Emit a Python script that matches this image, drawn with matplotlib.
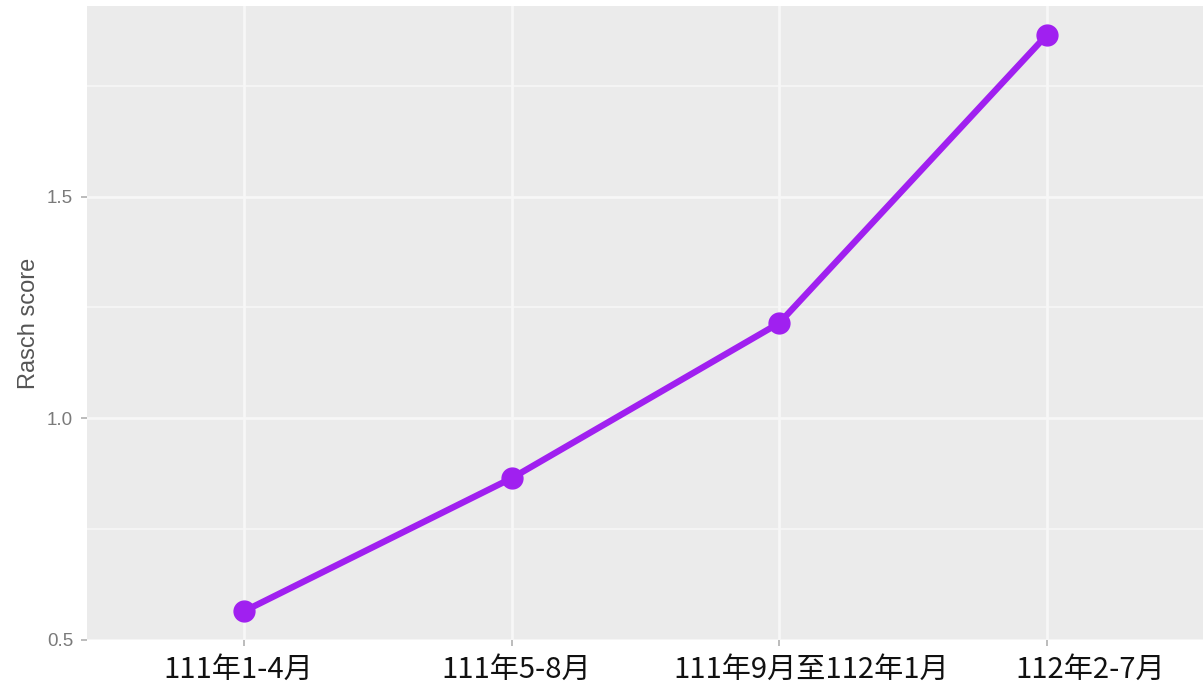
import matplotlib
matplotlib.use('agg')
import matplotlib.pyplot as plt
import matplotlib.transforms as mtransforms
import numpy as np

# data
periods = ['111年1-4月', '111年5-8月', '111年9月至112年1月', '112年2-7月']
rasch_score = [0.565, 0.865, 1.215, 1.865]
y_major = [0.5, 1.0, 1.5]
y_minor = [0.75, 1.25, 1.75]

plt.rcParams['font.family'] = ['Liberation Sans', 'DejaVu Sans']

fig = plt.figure(figsize=(12.03, 6.83), dpi=100)
ax = fig.add_axes([87 / 1203, 43 / 683, 1 - 87 / 1203, 634 / 683])
ax.set_facecolor('#EBEBEB')

x = np.arange(1, len(periods) + 1)
ax.plot(x, rasch_score, color='#A020F0', linewidth=4.6, marker='o',
        markersize=15, solid_capstyle='round', zorder=3)

ax.set_xlim(0.413, 4.583)
ax.set_ylim(0.502, 1.930)

ax.set_xticks(x)
ax.set_xticklabels(periods, family=['Noto Sans CJK TC', 'DejaVu Sans'],
                   fontsize=21, color='#111111', weight='medium')
ax.set_yticks(y_major)
ax.set_yticks(y_minor, minor=True)
ax.set_yticklabels(['0.5', '1.0', '1.5'], fontsize=13.5, color='#7a7a7a')

ax.grid(which='major', color='#F7F7F7', linewidth=2.0)
ax.grid(which='minor', axis='y', color='#F7F7F7', linewidth=1.2)
ax.set_axisbelow(True)

ax.tick_params(axis='both', which='major', length=4, width=1.2, color='#b0b0b0')
ax.tick_params(axis='x', pad=7)
ax.tick_params(axis='y', pad=6)
ax.tick_params(which='minor', length=0)

# nudge labels like in the reference
shifts_px = [-6, 4, 32, 43]
for lab, s in zip(ax.get_xticklabels(), shifts_px):
    lab.set_transform(lab.get_transform() +
                      mtransforms.ScaledTranslation(s / 100, 0, fig.dpi_scale_trans))

for sp in ax.spines.values():
    sp.set_visible(False)

ax.set_ylabel('Rasch score', fontsize=17, color='#555555')
ax.yaxis.set_label_coords((40 - 87) / 1116, 0.5)

fig.savefig('out.png', dpi=100)
plt.close()
